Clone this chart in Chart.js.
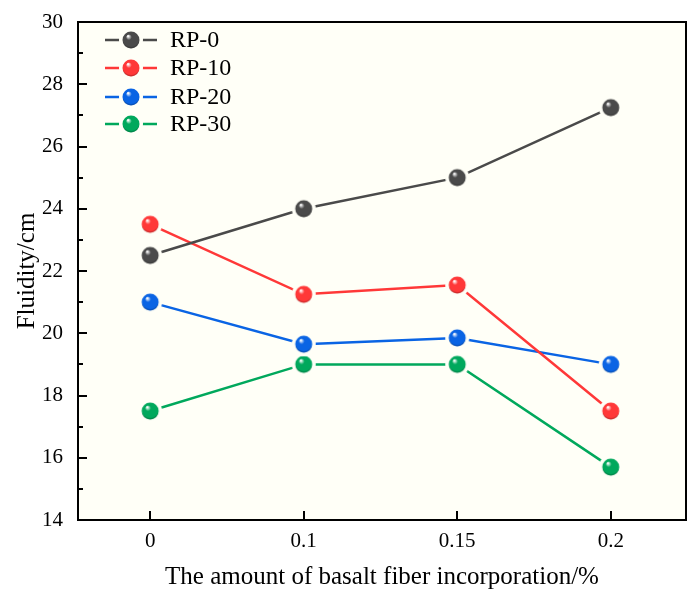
<!DOCTYPE html>
<html>
<head>
<meta charset="utf-8">
<script src="https://cdn.jsdelivr.net/npm/chart.js@4.4.1/dist/chart.umd.min.js"></script>
<style>
  html, body { margin: 0; padding: 0; background: #ffffff; }
  #wrap { width: 700px; height: 602px; }
</style>
</head>
<body>
<div id="wrap"><canvas id="fluidity"></canvas></div>
<script>
// fibre dosage categories (x axis)
var categories = ['0', '0.1', '0.15', '0.2'];
var seriesNames = ['RP-0', 'RP-10', 'RP-20', 'RP-30'];
var rp0 = [22.5, 24, 25, 27.25];
var rp10 = [23.5, 21.25, 21.55, 17.5];
var rp20 = [21, 19.65, 19.85, 19];
var rp30 = [17.5, 19, 19, 15.7];
var yTickValues = [14, 16, 18, 20, 22, 24, 26, 28, 30];
var yMinorValues = [15, 17, 19, 21, 23, 25, 27, 29];

var colors = ['#4a4a4a', '#ff3838', '#0a64e4', '#00a85c'];
var plotBg = '#fffff7';
var serif = '"Liberation Serif", "DejaVu Serif", serif';

// little shaded ball with a gap ring, used as marker
function makeBall(color) {
    var c = document.createElement('canvas');
    c.width = 28; c.height = 28;
    var g = c.getContext('2d');
    g.fillStyle = plotBg;
    g.beginPath(); g.arc(14, 14, 12, 0, Math.PI * 2); g.fill();
    var grad = g.createRadialGradient(11, 10, 0.5, 14, 14, 8.5);
    grad.addColorStop(0, '#ffffff');
    grad.addColorStop(0.3, color);
    grad.addColorStop(1, color);
    g.fillStyle = grad;
    g.beginPath(); g.arc(14, 14, 8.5, 0, Math.PI * 2); g.fill();
    g.fillStyle = 'rgba(0,0,0,0.18)';
    g.beginPath(); g.arc(14, 14, 8.5, 0.1 * Math.PI, 0.9 * Math.PI); g.arc(14, 12, 9, 0.85 * Math.PI, 0.15 * Math.PI, true); g.fill();
    return c;
}

var balls = colors.map(makeBall);
var allSeries = [rp0, rp10, rp20, rp30];

var datasets = allSeries.map(function (vals, k) {
    return {
        label: seriesNames[k],
        data: vals.map(function (v, i) { return { x: i, y: v }; }),
        borderColor: colors[k],
        borderWidth: 2.5,
        pointStyle: balls[k],
        pointRadius: 12,
        pointHoverRadius: 12,
        tension: 0
    };
});

var framePlugin = {
    id: 'frame',
    beforeDraw: function (chart) {
        var a = chart.chartArea, ctx = chart.ctx;
        ctx.save();
        ctx.fillStyle = plotBg;
        ctx.fillRect(a.left, a.top, a.right - a.left, a.bottom - a.top);
        ctx.restore();
    },
    afterDraw: function (chart) {
        var a = chart.chartArea, ctx = chart.ctx;
        var xs = chart.scales.x, ys = chart.scales.y;
        ctx.save();
        ctx.strokeStyle = '#000';
        ctx.lineWidth = 2;
        ctx.strokeRect(a.left, a.top, a.right - a.left, a.bottom - a.top);
        ctx.beginPath();
        yTickValues.forEach(function (v) {
            var y = Math.round(ys.getPixelForValue(v));
            ctx.moveTo(a.left, y); ctx.lineTo(a.left + 9, y);
        });
        yMinorValues.forEach(function (v) {
            var y = Math.round(ys.getPixelForValue(v));
            ctx.moveTo(a.left, y); ctx.lineTo(a.left + 5, y);
        });
        categories.forEach(function (c, i) {
            var x = Math.round(xs.getPixelForValue(i));
            ctx.moveTo(x, a.bottom); ctx.lineTo(x, a.bottom - 9);
        });
        ctx.stroke();

        // legend
        ctx.font = '24px ' + serif;
        ctx.textBaseline = 'middle';
        ctx.textAlign = 'left';
        var rows = [40, 68, 97, 124];
        chart.data.datasets.forEach(function (ds, k) {
            var y = rows[k];
            ctx.strokeStyle = ds.borderColor;
            ctx.lineWidth = 2.5;
            ctx.beginPath(); ctx.moveTo(105, y); ctx.lineTo(157, y); ctx.stroke();
            ctx.drawImage(balls[k], 131 - 14, y - 14);
            ctx.fillStyle = '#000';
            ctx.fillText(ds.label, 170, y + 1);
        });
        ctx.restore();
    }
};

var ctx = document.getElementById('fluidity').getContext('2d');
var fluidityChart = new Chart(ctx, {
    type: 'line',
    data: { datasets: datasets },
    options: {
        responsive: true,
        maintainAspectRatio: false,
        animation: false,
        layout: { autoPadding: false, padding: { left: 0, right: 14, top: 22, bottom: 0 } },
        plugins: {
            legend: { display: false },
            tooltip: { enabled: false }
        },
        scales: {
            x: {
                type: 'linear',
                min: -0.47,
                max: 3.49,
                grid: { display: false, drawTicks: false },
                border: { display: false },
                afterBuildTicks: function (scale) {
                    scale.ticks = categories.map(function (c, i) { return { value: i }; });
                },
                afterFit: function (scale) {
                    scale.height = 82;
                    scale.paddingLeft = 0; scale.paddingRight = 0;
                },
                ticks: {
                    padding: 9,
                    color: '#000',
                    font: { family: serif, size: 21 },
                    callback: function (v) { return categories[v]; }
                },
                title: {
                    display: true,
                    text: 'The amount of basalt fiber incorporation/%',
                    color: '#000',
                    font: { family: serif, size: 25 },
                    padding: { top: 0, bottom: 10 }
                }
            },
            y: {
                min: 14,
                max: 30,
                grid: { display: false, drawTicks: false },
                border: { display: false },
                afterBuildTicks: function (scale) {
                    scale.ticks = yTickValues.map(function (v) { return { value: v }; });
                },
                afterFit: function (scale) {
                    scale.width = 78;
                    scale.paddingTop = 0; scale.paddingBottom = 0;
                },
                ticks: {
                    padding: 15,
                    color: '#000',
                    font: { family: serif, size: 21 }
                },
                title: {
                    display: true,
                    text: 'Fluidity/cm',
                    color: '#000',
                    font: { family: serif, size: 25 },
                    padding: { top: 12, bottom: 0 }
                }
            }
        }
    },
    plugins: [framePlugin]
});
</script>
</body>
</html>
